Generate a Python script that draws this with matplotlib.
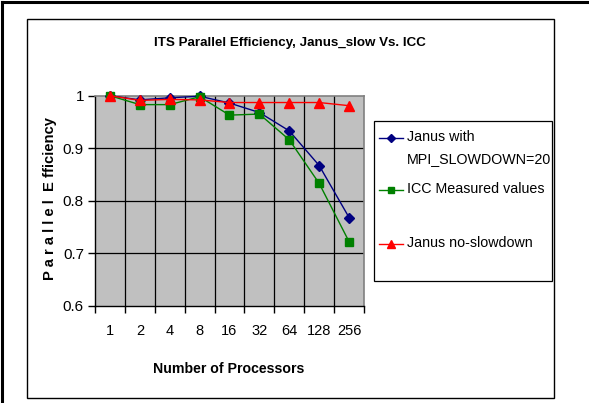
import matplotlib
matplotlib.use("Agg")
import matplotlib.pyplot as plt
from matplotlib.patches import Rectangle
from matplotlib.lines import Line2D

FONT = ['Liberation Sans', 'DejaVu Sans']

processors = ["1", "2", "4", "8", "16", "32", "64", "128", "256"]
janus_slow = [1.0, 0.992, 0.996, 0.999, 0.986, 0.968, 0.933, 0.867, 0.768]
icc_measured = [1.0, 0.983, 0.983, 0.998, 0.963, 0.965, 0.916, 0.833, 0.722]
janus_noslow = [1.0, 0.991, 0.993, 0.992, 0.987, 0.987, 0.987, 0.987, 0.981]
labels = ["Janus with\nMPI_SLOWDOWN=20", "ICC Measured values", "Janus no-slowdown"]
yticks = [0.6, 0.7, 0.8, 0.9, 1.0]
ytick_labels = ["0.6", "0.7", "0.8", "0.9", "1"]

W, H = 589, 403
fig = plt.figure(figsize=(W / 100, H / 100), dpi=100)
fig.patch.set_facecolor("white")

def fx(px):
    return px / W

def fy(py):
    return 1 - py / H

# outer frame (left/top) and inner chart box
fig.add_artist(Line2D([fx(1.5), fx(1.5)], [0, fy(1.5)], color="black", lw=2.2, transform=fig.transFigure))
fig.add_artist(Line2D([fx(1.5), 1], [fy(1.5), fy(1.5)], color="black", lw=2.2, transform=fig.transFigure))
fig.add_artist(Rectangle((fx(27), fy(398)), fx(554) - fx(27), fy(19) - fy(398), transform=fig.transFigure,
                         fill=False, edgecolor="black", lw=1.0))

ax = fig.add_axes([fx(95), fy(305.7), fx(364) - fx(95), fy(95.7) - fy(305.7)])
ax.set_facecolor("#C0C0C0")
x = list(range(len(processors)))
ax.set_xlim(-0.5, len(processors) - 0.5)
ax.set_ylim(0.6, 1.0)

# grid
for b in range(1, len(processors)):
    ax.axvline(b - 0.5, color="black", lw=0.9, zorder=1)
for yv in yticks[1:-1]:
    ax.axhline(yv, color="black", lw=0.9, zorder=1)

series = [
    (janus_slow, "#000080", "D", 5),
    (icc_measured, "#008000", "s", 5.5),
    (janus_noslow, "#FF0000", "^", 7),
]
for (vals, col, mk, ms) in series:
    ax.plot(x, vals, color=col, lw=1.0, marker=mk, markersize=ms, markerfacecolor=col,
            markeredgecolor=col, zorder=3, clip_on=False)

for s in ["top", "right"]:
    ax.spines[s].set_color("#808080")
    ax.spines[s].set_linewidth(1.2)
for s in ["left", "bottom"]:
    ax.spines[s].set_color("black")
    ax.spines[s].set_linewidth(1.0)

ax.set_yticks(yticks)
ax.set_yticklabels(ytick_labels, family=FONT, fontsize=11)
ax.set_xticks([i - 0.5 for i in range(len(processors) + 1)])
ax.set_xticklabels([])
ax.set_xticks(x, minor=True)
ax.set_xticklabels(processors, minor=True, family=FONT, fontsize=10.5)
ax.tick_params(axis="x", which="minor", length=0, pad=13)
ax.tick_params(axis="x", which="major", length=5, width=1, direction="out")
ax.tick_params(axis="y", length=5, width=1, direction="out", pad=3)

fig.text(fx(290), fy(43), "ITS Parallel Efficiency, Janus_slow Vs. ICC", family=FONT,
         fontweight="bold", fontsize=9.6, ha="center", va="center")
fig.text(fx(229), fy(369), "Number of Processors", family=FONT, fontweight="bold",
         fontsize=10.2, ha="center", va="center")
fig.text(fx(50), fy(198), "P a r a l l e l  E fficiency", family=FONT, fontweight="bold",
         fontsize=10.6, ha="center", va="center", rotation=90)

# legend
fig.add_artist(Rectangle((fx(374), fy(281)), fx(552) - fx(374), fy(121) - fy(281), transform=fig.transFigure,
                         fill=False, edgecolor="black", lw=0.9, facecolor="white"))
rows = [138, 190, 244]
for (vals, col, mk, ms), lab, ry in zip(series, labels, rows):
    fig.add_artist(Line2D([fx(379), fx(403)], [fy(ry), fy(ry)], color=col, lw=1.0, transform=fig.transFigure))
    fig.add_artist(Line2D([fx(391)], [fy(ry)], color=col, marker=mk, markersize=ms - 1,
                          markerfacecolor=col, markeredgecolor=col, transform=fig.transFigure))
    fig.text(fx(407), fy(ry - 8), lab, family=FONT, fontsize=10.3, ha="left", va="top", linespacing=1.75)

fig.savefig("out.png", dpi=100)
